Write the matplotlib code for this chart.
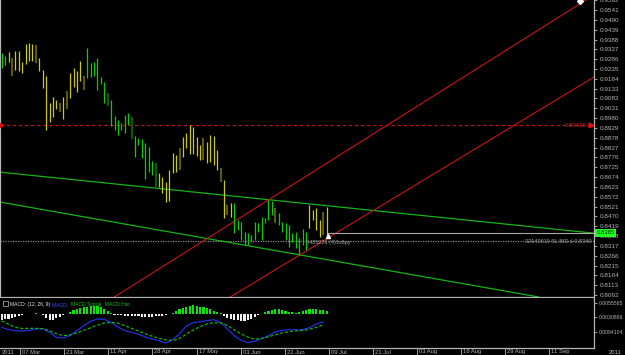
#!/usr/bin/env python
# -*- coding: utf-8 -*-

import matplotlib
matplotlib.use("Agg")
from matplotlib import pyplot as plt
from matplotlib import transforms

# daily bars, one entry per bar (index = bar number)
HIGH = [.9318, .9302, .9323, .9292, .9328, .9328, .9271, .9365, .9370, .9365,
        .9359, .9292, .9230, .9199, .9058, .9090, .9074, .9058, .9090, .9121,
        .9214, .9240, .9224, .9276, .9199, .9344, .9266, .9271, .9292, .9193,
        .9167, .9110, .9074, .8991, .8970, .8955, .8996, .9007, .8986, .8887,
        .8877, .8872, .8851, .8830, .8757, .8747, .8695, .8674, .8648, .8711,
        .8799, .8789, .8825, .8882, .8903, .8944, .8934, .8882, .8840, .8877,
        .8856, .8892, .8887, .8815, .8721, .8659, .8529, .8539, .8539, .8451,
        .8441, .8389, .8384, .8373, .8441, .8436, .8467, .8462, .8555, .8550,
        .8513, .8488, .8441, .8436, .8425, .8384, .8389, .8358, .8405, .8389,
        .8529, .8503, .8513, .8451, .8493, .8519]
LOW = [.9240, .9256, .9271, .9199, .9230, .9224, .9214, .9261, .9276, .9276,
       .9266, .9224, .9136, .8918, .8960, .8986, .9027, .9012, .8975, .9027,
       .9084, .9142, .9116, .9173, .9126, .9188, .9193, .9199, .9126, .9157,
       .9058, .9043, .8939, .8918, .8892, .8918, .8903, .8944, .8872, .8778,
       .8840, .8773, .8664, .8700, .8685, .8622, .8622, .8591, .8545, .8550,
       .8695, .8700, .8711, .8778, .8825, .8794, .8794, .8783, .8763, .8763,
       .8747, .8752, .8737, .8711, .8648, .8462, .8477, .8467, .8384, .8399,
       .8347, .8321, .8321, .8337, .8347, .8389, .8347, .8436, .8451, .8477,
       .8436, .8425, .8389, .8347, .8311, .8337, .8306, .8270, .8321, .8296,
       .8410, .8451, .8399, .8363, .8373, .8373]
# g = up bar, y = down bar, o / d = darker bars
KIND = ("ggyoyyyyyy" "oyyyyyyoyo" "yyyyoggggg" "gdggggggdg" "gggggdyyyy"
        "yyoyyyyyyo" "yyyyoyoygg" "gggggggggg" "oggggggggg" "yyyyoy")

# MACD window (values x 1e-3)
HIST = [-3.4, -2.9, -2.6, -2.4, -1.7, -1.2, -0.9, -0.3, -0.2, -0.2,
        0.1, -0.3, -0.9, -2.1, -3.1, -3.4, -2.4, -1.7, -1.0, -0.5,
        1.0, 1.7, 2.2, 2.8, 3.1, 3.4, 4.0, 4.1, 3.8, 3.1,
        2.1, 1.4, 0.5, -0.7, -1.0, -1.0, -1.2, -1.4, -1.4, -1.5,
        -1.5, -1.7, -1.7, -1.7, -1.7, -1.5, -1.5, -1.4, -1.0, -0.5,
        0.3, 1.2, 2.1, 2.8, 3.4, 4.1, 4.5, 4.1, 3.6, 3.1,
        2.6, 2.1, 1.5, 1.0, 0.2, -1.2, -2.1, -2.8, -3.3, -3.6,
        -4.0, -4.0, -3.3, -2.6, -1.9, -1.0, -0.3, 0.7, 1.5, 1.9,
        2.1, 2.1, 1.7, 1.5, 1.0, 0.7, 0.5, 0.7, 1.2, 1.7,
        2.1, 2.2, 2.1, 1.9, 1.7, 1.5]
MACD_IDX = list(range(0, 96, 2))
MACD = [-7.14, -8.34, -8.86, -9.03, -8.69, -8.00, -7.83, -9.72, -12.30, -12.64,
        -11.27, -8.86, -6.28, -4.04, -2.84, -3.01, -4.73, -6.97, -8.86, -9.72,
        -10.75, -12.13, -13.16, -14.02, -15.22, -13.50, -10.41, -6.45, -4.73, -4.21,
        -3.70, -3.18, -4.56, -8.00, -11.44, -13.85, -15.05, -14.36, -12.99, -11.44,
        -9.55, -8.69, -8.34, -8.51, -8.34, -7.31, -5.42, -4.39]
SIGNAL = [-3.78, -5.54, -7.10, -7.77, -7.65, -7.65, -7.86, -8.91, -10.44, -11.35,
          -11.09, -9.92, -8.70, -7.36, -5.97, -4.87, -4.56, -4.90, -6.28, -7.69,
          -9.03, -10.47, -11.71, -12.81, -13.59, -13.98, -12.90, -10.68, -8.55, -6.79,
          -5.40, -4.73, -4.83, -6.16, -8.45, -10.49, -12.21, -13.26, -12.81, -12.04,
          -10.97, -10.03, -9.37, -8.91, -8.72, -8.17, -7.12, -5.83]

# drawn objects: (bar, price) anchor pairs
GREEN_LINES = [((0, .8699), (170, .8389)), ((0, .8543), (150, .8074))]
RED_LINES = [((40, .8131), (160, .9472)), ((70, .8086), (170, .9159))]
ALERT_PRICE = 0.89419
LAST_PRICE = 0.8385
SL_PRICE = 0.8340

PRICE_TICKS = ['0.9592', '0.9541', '0.9490', '0.9439', '0.9388', '0.9337', '0.9286',
               '0.9235', '0.9184', '0.9133', '0.9082', '0.9031', '0.8980', '0.8929',
               '0.8878', '0.8827', '0.8776', '0.8725', '0.8674', '0.8623', '0.8572',
               '0.8521', '0.8470', '0.8419', '0.8368', '0.8317', '0.8266', '0.8215',
               '0.8164', '0.8113', '0.8062']
MACD_TICKS = [5.5565, -1.93, -9.4104]
MACD_TICK_LABELS = ['0.0055565', '0.0030869', '0.0094104']
DATE_POS = [5.4, 18.2, 31.1, 44.0, 57.1, 70.0, 82.8, 95.7, 108.6, 121.4, 134.3, 147.2, 160.0]
DATE_LABELS = ['07 Mar', '23 Mar', '11 Apr', '28 Apr', '17 May', '03 Jun', '22 Jun',
               '09 Jul', '21 Jul', '03 Aug', '16 Aug', '29 Aug', '11 Sep']

FONT = ['Liberation Sans', 'DejaVu Sans']
AXIS_GREY = '#b4b4b4'
COLORS = {'g': '#10c810', 'y': '#c8c81e', 'o': '#5a5a08', 'd': '#0a5a0a'}


def plot_chart(prefix):

    plt.rcParams['font.family'] = FONT
    W, H = 625.0, 355.0
    fig = plt.figure(figsize=(6.25, 3.55), dpi=100, facecolor='black')

    # main price window
    ax = fig.add_axes([0, 1 - 297 / H, 594 / W, 297 / H], facecolor='black')
    ax.set_xlim(-0.5, 173.2)
    ax.set_ylim(0.8052, 0.9593)

    for i in range(len(HIGH)):
        k = KIND[i]
        lw = 1.5 if k in 'od' else 0.9
        ax.vlines(i, LOW[i], HIGH[i], color=COLORS[k], lw=lw, zorder=3)

    for (x0, y0), (x1, y1) in GREEN_LINES:
        ax.axline((x0, y0), (x1, y1), color='#14b414', lw=0.9, zorder=2)
    for (x0, y0), (x1, y1) in RED_LINES:
        ax.axline((x0, y0), (x1, y1), color='#c81414', lw=0.8, zorder=2)

    ax.axhline(ALERT_PRICE, color='#c81414', lw=0.8, ls=(0, (3, 2.5)), zorder=2)
    ax.axhline(SL_PRICE, color='#8a8a8a', lw=0.9, ls=(0, (1, 1)), zorder=1)
    ax.hlines(LAST_PRICE, len(HIGH) - 1, 173.2, color='#a8a8a8', lw=0.8, zorder=2)

    ax.plot([-0.3], [ALERT_PRICE], marker='>', ms=3.5, color='#e01010', clip_on=False, zorder=4)
    ax.plot([172.3], [ALERT_PRICE], marker='>', ms=3.5, color='#e01010', clip_on=False, zorder=4)
    ax.text(171.0, ALERT_PRICE, '0.89419', color='#e02020', fontsize=4.3,
            ha='right', va='center')
    ax.plot([95.3], [0.8370], marker='^', ms=3, color='white', zorder=5)
    ax.plot([169.1], [0.9590], marker='D', ms=3, color='white', clip_on=False, zorder=5)
    ax.text(89.0, 0.8337, '6485226 (4)1x6py', color='#a0a0a0', fontsize=4,
            ha='left', va='center')
    ax.text(172.6, SL_PRICE, '32140619 SL BID \u2264 0.8340', color='#a0a0a0', fontsize=4,
            ha='right', va='center')

    ax.yaxis.tick_right()
    ax.set_yticks([float(t) for t in PRICE_TICKS])
    ax.set_yticklabels(PRICE_TICKS)
    ax.set_xticks([])
    ax.tick_params(axis='y', colors=AXIS_GREY, labelsize=4.6, length=2.5, width=0.6, pad=2)
    ax.spines['top'].set_visible(False)
    for s in ['left', 'right', 'bottom']:
        ax.spines[s].set_color(AXIS_GREY)
        ax.spines[s].set_linewidth(0.9)

    # current price tag on the axis
    ax.text(1.004, LAST_PRICE, '0.8385', transform=transforms.blended_transform_factory(
        ax.transAxes, ax.transData), fontsize=4.3, color='#003000', ha='left', va='center',
        bbox=dict(boxstyle='square,pad=0.25', fc='#20ff20', ec='none'), zorder=6)

    # MACD window
    ax2 = fig.add_axes([0, 1 - 348 / H, 594 / W, 50 / H], facecolor='black')
    ax2.set_xlim(-0.5, 173.2)
    ax2.set_ylim(-17.8, 8.0)
    hcol = ['#f0f0f0' if v < 0 else '#10e010' for v in HIST]
    ax2.bar(range(len(HIST)), HIST, width=0.62, color=hcol, zorder=2)
    ax2.plot(MACD_IDX, MACD, color='#2030e0', lw=0.9, zorder=3)
    ax2.plot(MACD_IDX, SIGNAL, color='#10b010', lw=0.9, ls=(0, (2.5, 1.5)), zorder=3)

    ax2.yaxis.tick_right()
    ax2.set_yticks(MACD_TICKS)
    ax2.set_yticklabels(MACD_TICK_LABELS)
    ax2.tick_params(axis='y', colors=AXIS_GREY, labelsize=3.7, length=2.5, width=0.6, pad=1)
    ax2.set_xticks(DATE_POS)
    ax2.set_xticklabels([])
    ax2.tick_params(axis='x', colors=AXIS_GREY, length=6, width=0.6, direction='out')
    for s in ['top', 'left']:
        ax2.spines[s].set_visible(False)
    for s in ['right', 'bottom']:
        ax2.spines[s].set_color(AXIS_GREY)
        ax2.spines[s].set_linewidth(0.9)

    # indicator caption, pieces laid out one after another on one baseline
    fig.add_artist(plt.Rectangle((3 / W, 1 - 306 / H), 5 / W, 5 / H, transform=fig.transFigure,
                                 fill=False, ec='#c0c0c0', lw=0.5))
    parts = [('MACD: (12, 26, 9) ', '#e8e8e8'), ('MACD, ', '#3050ff'),
             ('MACD Signal, ', '#10c010'), ('MACD Hist', '#10c010')]
    fig.canvas.draw()
    renderer = fig.canvas.get_renderer()
    xpos = 10.0
    for txt, col in parts:
        t = fig.text(xpos / W, 1 - 306 / H, txt, color=col, fontsize=3.6,
                     ha='left', va='baseline')
        xpos += t.get_window_extent(renderer).width + 1.0

    # date labels
    tr = transforms.blended_transform_factory(ax2.transData, fig.transFigure)
    for pos, lab in zip(DATE_POS, DATE_LABELS):
        ax2.text(pos + 0.6, 1 - 352 / H, lab, transform=tr, color=AXIS_GREY,
                 fontsize=4.2, ha='left', va='center')
    fig.text(2 / W, 1 - 352 / H, '2011', color=AXIS_GREY, fontsize=4.2, ha='left', va='center')
    fig.text(622 / W, 1 - 352 / H, '2011', color=AXIS_GREY, fontsize=4.2, ha='right', va='center')

    fig.savefig('%s.png' % prefix, dpi=100, facecolor='black')


def main():
    plot_chart('out')


if __name__ == "__main__":
    main()
